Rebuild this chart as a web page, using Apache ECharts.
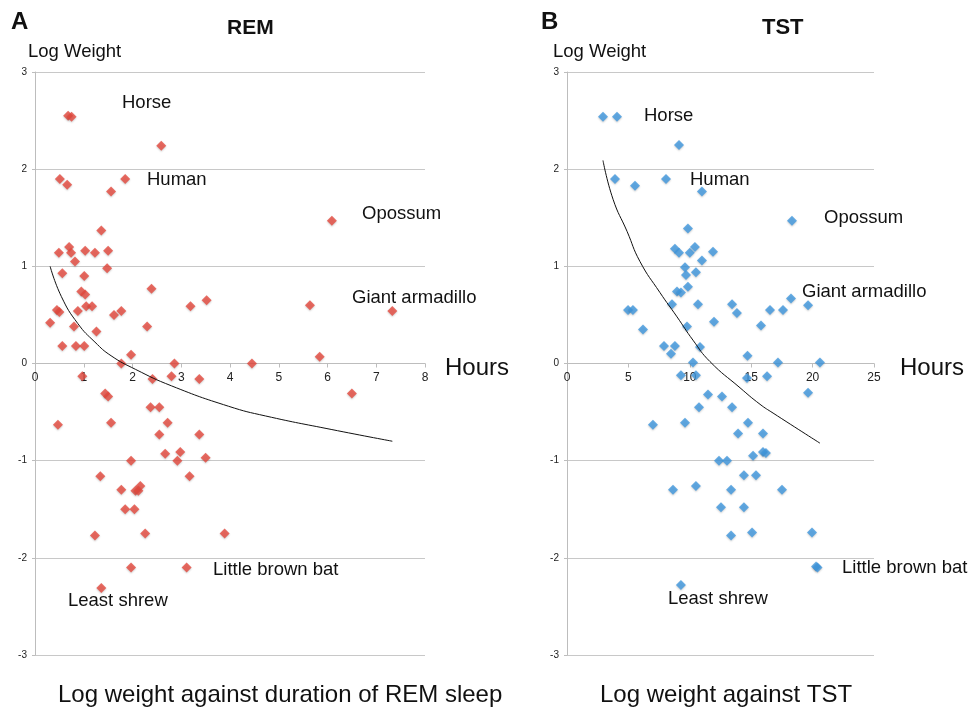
<!DOCTYPE html>
<html>
<head>
<meta charset="utf-8">
<script src="https://cdn.jsdelivr.net/npm/echarts@6/dist/echarts.min.js"></script>
<style>html,body{margin:0;padding:0;background:#fff}#c{width:969px;height:711px}</style>
</head>
<body>
<div id="c"></div>
<script>
// Panel A: REM duration (hours) vs log weight
var remX = [0.68,0.75,2.59,0.51,0.66,1.56,1.85,1.36,0.70,0.49,0.74,1.03,1.23,1.50,0.82,0.56,1.01,1.48,2.39,0.95,1.03,3.52,3.19,0.45,0.50,0.88,1.05,1.17,1.62,1.77,0.31,0.80,1.26,2.30,0.56,0.84,1.01,1.97,1.77,2.86,6.09,5.64,7.33,5.84,4.45,6.50,0.97,2.41,2.80,3.37,1.44,1.50,2.37,2.55,0.47,1.56,2.72,2.55,3.37,2.98,2.67,3.50,2.92,1.97,1.34,3.17,2.16,1.77,2.06,2.12,1.85,2.04,1.23,2.26,3.89,1.97,3.11,1.36];
var remY = [2.55,2.54,2.24,1.90,1.84,1.77,1.90,1.37,1.20,1.14,1.14,1.16,1.14,1.16,1.05,0.93,0.90,0.98,0.77,0.74,0.71,0.65,0.59,0.55,0.53,0.54,0.59,0.59,0.50,0.54,0.42,0.38,0.33,0.38,0.18,0.18,0.18,0.09,0.00,0.00,1.47,0.60,0.54,0.07,0.00,-0.31,-0.13,-0.16,-0.13,-0.16,-0.31,-0.34,-0.45,-0.45,-0.63,-0.61,-0.61,-0.73,-0.73,-0.91,-0.93,-0.97,-1.00,-1.00,-1.16,-1.16,-1.26,-1.30,-1.31,-1.31,-1.50,-1.50,-1.77,-1.75,-1.75,-2.10,-2.10,-2.31];
var remTrendX = [0.31,0.54,0.88,1.23,1.56,2.06,2.8,3.97,4.73,6.09,7.33];
var remTrendY = [1.0,0.69,0.41,0.22,0.08,-0.06,-0.23,-0.44,-0.54,-0.68,-0.80];

// Panel B: total sleep time (hours) vs log weight
var tstX = [2.93,4.07,9.12,3.91,5.54,8.06,10.99,9.85,8.79,9.12,10.0,10.42,11.89,10.99,9.61,9.69,10.5,9.85,8.96,9.28,8.55,10.67,13.44,13.84,4.97,5.37,11.97,15.8,6.19,9.77,7.90,8.79,10.83,8.47,14.70,10.26,9.28,10.50,11.48,12.62,10.75,13.44,7.0,9.61,14.74,13.93,12.38,13.03,15.15,14.41,15.39,8.63,10.5,13.36,12.54,14.41,13.36,15.07,9.28,18.32,18.24,16.53,17.59,19.63,17.18,20.6,16.29,19.63,15.96,15.96,16.2,17.51,19.95,20.28,20.4,14.66];
var tstY = [2.54,2.54,2.25,1.90,1.83,1.90,1.77,1.39,1.18,1.14,1.14,1.20,1.15,1.06,0.99,0.91,0.94,0.79,0.74,0.73,0.61,0.61,0.61,0.52,0.55,0.55,0.43,0.39,0.35,0.38,0.18,0.18,0.17,0.10,0.08,0.01,-0.12,-0.12,-0.32,-0.34,-0.45,-0.45,-0.63,-0.61,-0.61,-0.72,-1.0,-1.0,-0.95,-1.15,-1.15,-1.30,-1.26,-1.30,-1.48,-1.48,-1.77,-1.74,-2.28,1.47,0.67,0.55,0.55,0.60,0.01,0.01,-0.13,-0.30,-0.72,-0.91,-0.92,-1.30,-1.74,-2.09,-2.10,-0.15];
var tstTrendX = [2.93,3.75,4.89,5.94,7.57,8.96,10.26,11.64,14.09,15.72,16.78,20.6];
var tstTrendY = [2.09,1.69,1.36,1.05,0.73,0.48,0.24,0.02,-0.25,-0.42,-0.51,-0.82];

var yTicks = [-3,-2,-1,0,1,2,3];
var remXTicks = [0,1,2,3,4,5,6,7,8];
var tstXTicks = [0,5,10,15,20,25];

function zip(a,b){return a.map(function(v,i){return [v,b[i]];});}

var FONT = 'Liberation Sans, Arial, sans-serif';
var diamond = 'path://M0,-1L1,0L0,1L-1,0Z';
var GRID_TOP = 72, GRID_BOTTOM = 56, H = 711;
// x axis sits on y = 0, which is mid-height of the symmetric -3..3 y range
var ZERO_OFFSET = -(H - GRID_TOP - GRID_BOTTOM) / 2;

function yAxis(idx){
  return {gridIndex: idx, type:'value', min:yTicks[0], max:yTicks[yTicks.length-1], interval:1,
    axisLine:{show:true, onZero:false, lineStyle:{color:'#bdbdbd'}},
    axisTick:{show:true, length:3, lineStyle:{color:'#bdbdbd'}},
    axisLabel:{fontSize:10, color:'#222', fontFamily:FONT, margin:8},
    splitLine:{show:true, lineStyle:{color:'#c8c8c8', width:1}}};
}
function xAxis(idx, ticks){
  return {gridIndex: idx, type:'value', position:'bottom', offset: ZERO_OFFSET,
    min:ticks[0], max:ticks[ticks.length-1], interval:ticks[1]-ticks[0],
    axisLine:{show:true, onZero:false, lineStyle:{color:'#bdbdbd'}},
    axisTick:{show:true, length:4, lineStyle:{color:'#bdbdbd'}},
    axisLabel:{fontSize:12, color:'#222', fontFamily:FONT, margin:8},
    splitLine:{show:false}};
}

var chart = echarts.init(document.getElementById('c'), null, {renderer:'canvas'});

function txt(x,y,s,size,bold){
  return {type:'text', x:x, y:y, style:{text:s, font:(bold?'bold ':'')+size+'px '+FONT, fill:'#111',
    align:'left', verticalAlign:'middle', textAlign:'left', textVerticalAlign:'middle'}};
}

chart.setOption({
  animation:false,
  backgroundColor:'#fff',
  grid:[
    {left:35, right:544, top:GRID_TOP, bottom:GRID_BOTTOM},
    {left:567, right:95, top:GRID_TOP, bottom:GRID_BOTTOM}
  ],
  xAxis:[xAxis(0, remXTicks), xAxis(1, tstXTicks)],
  yAxis:[yAxis(0), yAxis(1)],
  series:[
    {type:'scatter', xAxisIndex:0, yAxisIndex:0, data:zip(remX,remY), symbol:diamond, symbolSize:10,
     itemStyle:{color:'#e5493d', shadowBlur:2, shadowColor:'rgba(0,0,0,0.25)', shadowOffsetY:1}},
    {type:'line', xAxisIndex:0, yAxisIndex:0, data:zip(remTrendX,remTrendY), smooth:true, showSymbol:false, symbol:'none',
     lineStyle:{color:'#111', width:1}},
    {type:'scatter', xAxisIndex:1, yAxisIndex:1, data:zip(tstX,tstY), symbol:diamond, symbolSize:10,
     itemStyle:{color:'#3f97de', shadowBlur:2, shadowColor:'rgba(0,0,0,0.25)', shadowOffsetY:1}},
    {type:'line', xAxisIndex:1, yAxisIndex:1, data:zip(tstTrendX,tstTrendY), smooth:true, showSymbol:false, symbol:'none',
     lineStyle:{color:'#111', width:1}}
  ],
  graphic:[
    txt(11,22,'A',24,true), txt(227,28,'REM',21,true),
    txt(28,52,'Log Weight',18.5,false),
    txt(445,368,'Hours',24,false),
    txt(58,695,'Log weight against duration of REM sleep',24,false),
    txt(122,103,'Horse',18.5,false), txt(147,180,'Human',18.5,false),
    txt(362,214,'Opossum',18.5,false), txt(352,298,'Giant armadillo',18.5,false),
    txt(213,570,'Little brown bat',18.5,false), txt(68,601,'Least shrew',18.5,false),

    txt(541,22,'B',24,true), txt(762,28,'TST',22,true),
    txt(553,52,'Log Weight',18.5,false),
    txt(900,368,'Hours',24,false),
    txt(600,695,'Log weight against TST',24,false),
    txt(644,116,'Horse',18.5,false), txt(690,180,'Human',18.5,false),
    txt(824,218,'Opossum',18.5,false), txt(802,292,'Giant armadillo',18.5,false),
    txt(842,568,'Little brown bat',18.5,false), txt(668,599,'Least shrew',18.5,false)
  ]
});
</script>
</body>
</html>
